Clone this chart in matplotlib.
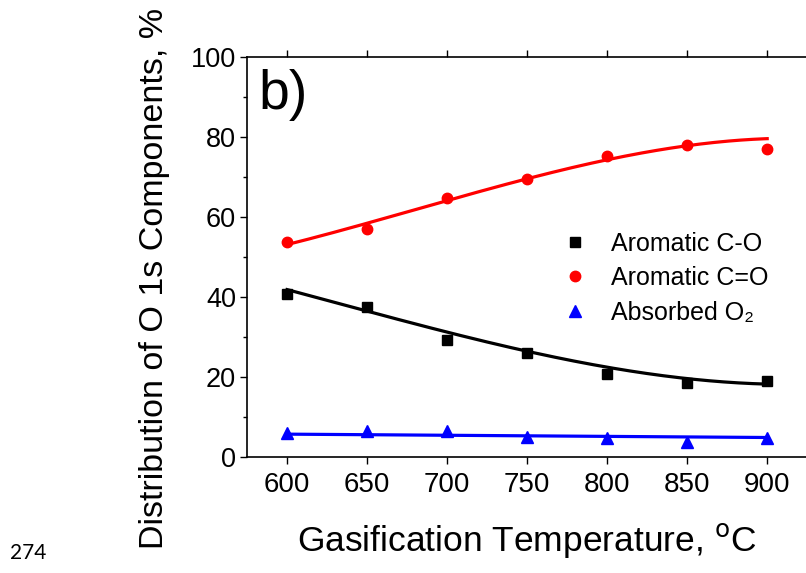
import numpy as np
import matplotlib
matplotlib.use("Agg")
import matplotlib.pyplot as plt
from matplotlib.ticker import MultipleLocator

# gasification temperature, C
temps = [600, 650, 700, 750, 800, 850, 900]
# O 1s components, % (measured points)
aromatic_co = [40.7, 37.4, 29.2, 26.1, 20.8, 18.4, 19.0]
aromatic_c_eq_o = [53.8, 56.9, 64.8, 69.5, 75.3, 78.0, 76.9]
absorbed_o2 = [6.1, 6.4, 6.6, 5.1, 4.7, 3.8, 4.7]
# trend lines at the same temperatures
trend_co = [41.9, 36.3, 31.5, 26.3, 22.4, 19.7, 18.2]
trend_c_eq_o = [53.0, 58.7, 64.1, 69.25, 74.4, 78.0, 79.5]
trend_o2 = [5.7, 5.6, 5.45, 5.3, 5.15, 5.0, 4.9]

plt.rcParams['font.family'] = ['Liberation Sans', 'DejaVu Sans']

fig = plt.figure(figsize=(8.06, 5.73), dpi=100)
ax = fig.add_axes([0.3065, 0.2024, 0.695, 0.6981])

xs = np.linspace(600, 900, 200)
series = [
    (aromatic_co, trend_co, 'k', 's', 7, 'Aromatic C-O', 3),
    (aromatic_c_eq_o, trend_c_eq_o, 'red', 'o', 7.5, 'Aromatic C=O', 3),
    (absorbed_o2, trend_o2, 'blue', '^', 8, 'Absorbed O\u2082', 1),
]
for ys, tr, col, mk, ms, lab, deg in series:
    ax.plot(temps, ys, mk, color=col, ms=ms, label=lab, ls='none')
    fit = np.polyfit(temps, tr, deg)
    ax.plot(xs, np.polyval(fit, xs), color=col, lw=2.3)

ax.set_xlim(575, 925)
ax.set_ylim(0, 100)
ax.xaxis.set_major_locator(MultipleLocator(50))
ax.yaxis.set_major_locator(MultipleLocator(20))
ax.yaxis.set_minor_locator(MultipleLocator(10))
ax.tick_params(axis='both', which='major', direction='out', length=5, width=1)
ax.tick_params(axis='y', which='minor', direction='out', length=3, width=1)
ax.tick_params(axis='y', labelsize=19.5, pad=3)
ax.tick_params(axis='x', labelsize=20, pad=6, top=True)
ax.spines['right'].set_visible(False)
for s in ['left', 'bottom', 'top']:
    ax.spines[s].set_linewidth(1.2)

ax.set_xlabel('Gasification Temperature, $^{\\mathrm{o}}$C', fontsize=25.5, labelpad=16)
ax.set_ylabel('Distribution of O 1s Components, %', fontsize=24.5)
ax.yaxis.set_label_coords(-0.137, 0.447)

ax.text(0.02, 0.97, 'b)', transform=ax.transAxes, fontsize=40, va='top', ha='left')

ax.legend(loc='upper left', bbox_to_anchor=(0.53, 0.595), frameon=False, fontsize=18,
          handletextpad=0.7, labelspacing=0.42, borderpad=0, handlelength=1.5)

fig.text(0.012, 0.025, '274', fontsize=15, family=['Lato', 'DejaVu Sans'])

fig.savefig('out.png', dpi=100)
